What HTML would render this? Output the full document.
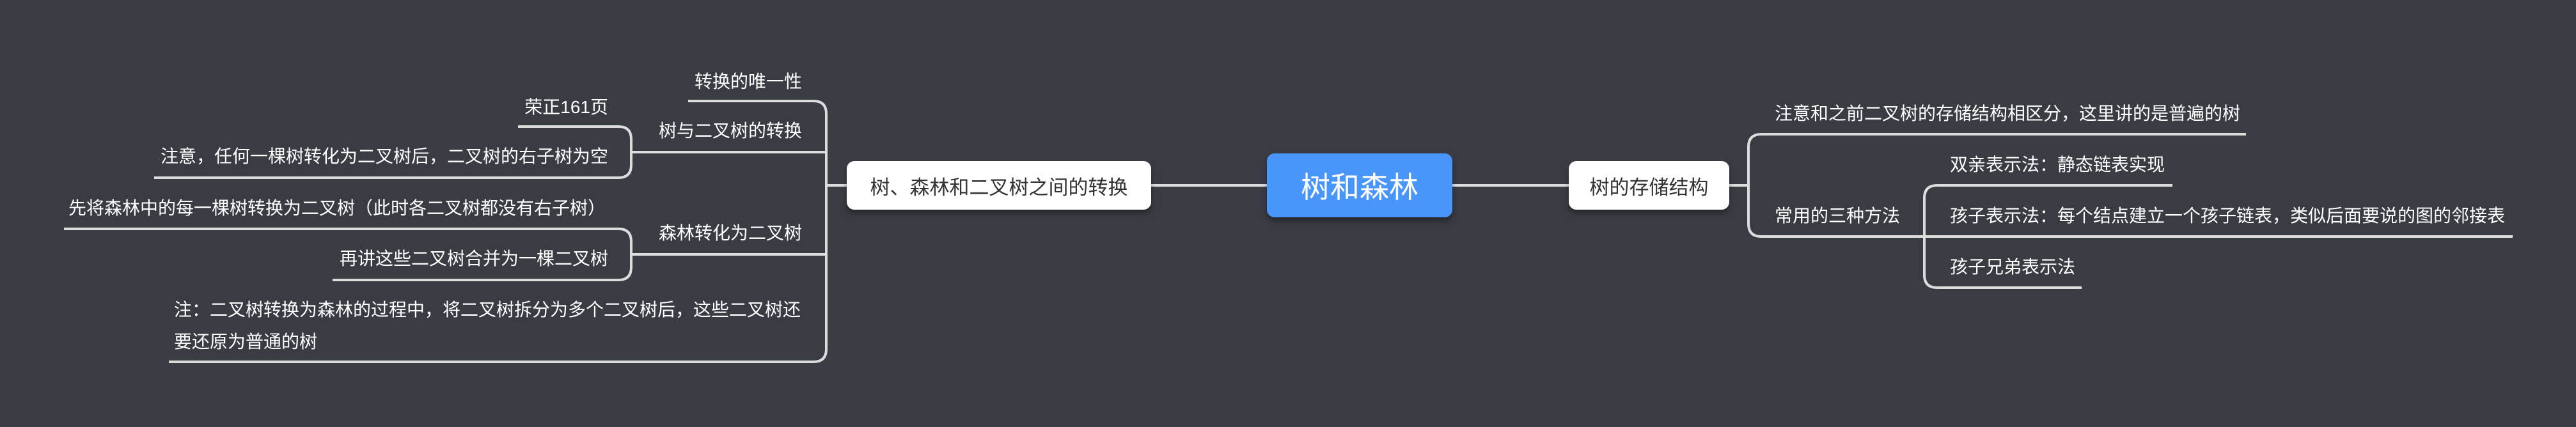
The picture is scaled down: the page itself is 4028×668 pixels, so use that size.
<!DOCTYPE html>
<html><head><meta charset="utf-8"><style>
html,body{margin:0;padding:0;}
body{width:4028px;height:668px;background:#393c42;position:relative;overflow:hidden;font-family:"Liberation Sans","Noto Sans CJK SC",sans-serif;}
.t{position:absolute;color:#fff;font-size:28px;line-height:36px;white-space:nowrap;}
.r{text-align:right;}
.n{position:absolute;background:#fff;border-radius:12px;color:#333;font-size:31px;display:flex;align-items:center;justify-content:center;box-shadow:0 6px 8px rgba(0,0,0,.35);white-space:nowrap;}
svg{position:absolute;left:0;top:0;}
</style></head><body>
<svg width="4028" height="668" fill="none" stroke="#dcdcdc" stroke-width="4">
<path d="M1292 290H1324M2271 290H2453M1800 290H1981M2704 290H2734"/>
<path d="M1076 158H1272Q1292 158 1292 178V546Q1292 566 1272 566H264"/>
<path d="M987 238H1292M987 398H1292"/>
<path d="M810 198H967Q987 198 987 218V258Q987 278 967 278H241"/>
<path d="M100 358H967Q987 358 987 378V418Q987 438 967 438H520"/>
<path d="M3512 210H2754Q2734 210 2734 230V350Q2734 370 2754 370H3929"/>
<path d="M3397 290H3029Q3009 290 3009 310V430Q3009 450 3029 450H3255"/>
</svg>
<div class="n" style="left:1324px;top:252px;width:476px;height:76px;">树、森林和二叉树之间的转换</div>
<div class="n" style="left:1981px;top:240px;width:290px;height:100px;background:#4896fa;color:#fff;font-size:46px;">树和森林</div>
<div class="n" style="left:2453px;top:252px;width:251px;height:76px;">树的存储结构</div>

<div class="t r" style="right:2774px;top:110px;">转换的唯一性</div>
<div class="t r" style="right:3077px;top:150px;">荣正161页</div>
<div class="t r" style="right:2774px;top:187px;">树与二叉树的转换</div>
<div class="t r" style="right:3077px;top:227px;">注意，任何一棵树转化为二叉树后，二叉树的右子树为空</div>
<div class="t" style="left:107px;top:308px;">先将森林中的每一棵树转换为二叉树（此时各二叉树都没有右子树）</div>
<div class="t r" style="right:2774px;top:347px;">森林转化为二叉树</div>
<div class="t r" style="right:3077px;top:387px;">再讲这些二叉树合并为一棵二叉树</div>
<div class="t" style="left:272px;top:467px;">注：二叉树转换为森林的过程中，将二叉树拆分为多个二叉树后，这些二叉树还</div>
<div class="t" style="left:272px;top:517px;">要还原为普通的树</div>

<div class="t" style="left:2775px;top:160px;">注意和之前二叉树的存储结构相区分，这里讲的是普遍的树</div>
<div class="t" style="left:2775px;top:320px;">常用的三种方法</div>
<div class="t" style="left:3049px;top:240px;">双亲表示法：静态链表实现</div>
<div class="t" style="left:3049px;top:320px;">孩子表示法：每个结点建立一个孩子链表，类似后面要说的图的邻接表</div>
<div class="t" style="left:3049px;top:400px;">孩子兄弟表示法</div>
</body></html>
